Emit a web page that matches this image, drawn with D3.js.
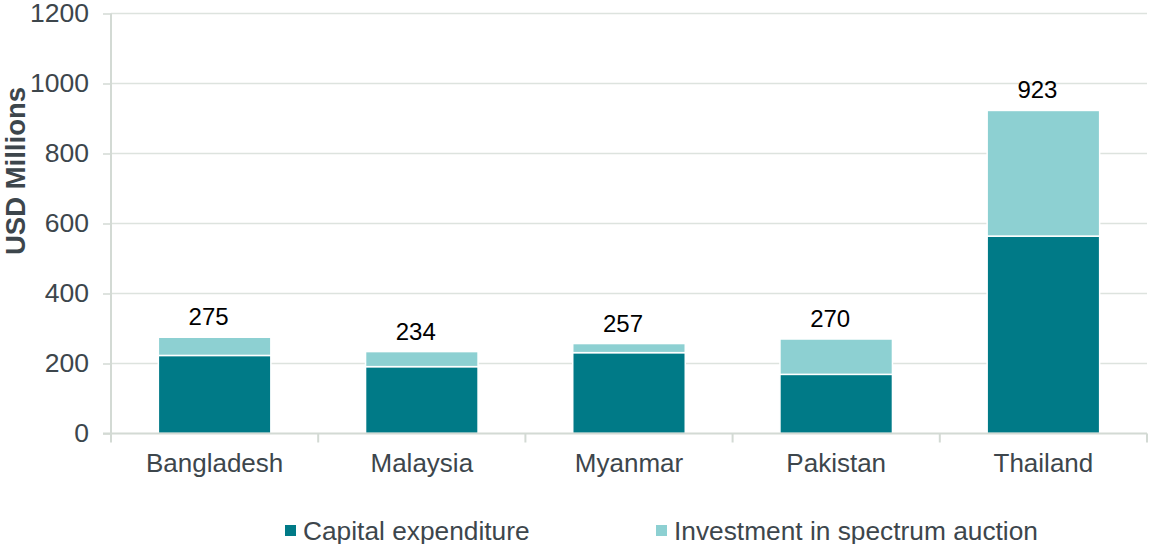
<!DOCTYPE html>
<html>
<head>
<meta charset="utf-8">
<script src="https://cdn.jsdelivr.net/npm/d3@7"></script>
<style>
  html, body { margin: 0; padding: 0; background: #fff; }
  svg { display: block; font-family: "Liberation Sans", Arial, sans-serif; }
</style>
</head>
<body>
<svg id="chart" width="1149" height="544"></svg>
<script>
const categories = ["Bangladesh", "Malaysia", "Myanmar", "Pakistan", "Thailand"];
const capex = [223, 191, 231, 169, 564];
const spectrum = [52, 43, 26, 101, 359];
const totals = [275, 234, 257, 270, 923];
const yTicks = [0, 200, 400, 600, 800, 1000, 1200];
const seriesNames = ["Capital expenditure", "Investment in spectrum auction"];
const colors = ["#007a87", "#8dd0d2"];

const svg = d3.select("#chart");
const plotLeft = 111, plotRight = 1147, plotTop = 13.5, plotBottom = 433.5;

const x = d3.scaleBand().domain(categories).range([plotLeft, plotRight]).paddingInner(0.457).paddingOuter(0.2285);
const y = d3.scaleLinear().domain([0, 1200]).range([plotBottom, plotTop]);

const gridColor = "#dde3de";
const axisColor = "#d3dad4";
const textColor = "#3d464c";

// gridlines
svg.append("g").selectAll("line").data(yTicks.filter(d => d > 0)).join("line")
  .attr("x1", plotLeft).attr("x2", plotRight)
  .attr("y1", d => y(d)).attr("y2", d => y(d))
  .attr("stroke", gridColor).attr("stroke-width", 1.5);

// y axis
const yAxis = svg.append("g").attr("transform", `translate(${plotLeft},0)`)
  .call(d3.axisLeft(y).tickValues(yTicks).tickSize(8).tickPadding(14).tickFormat(d3.format("d")));
yAxis.select(".domain").attr("stroke", axisColor).attr("stroke-width", 2).attr("d", `M0,${plotTop}V${plotBottom}`);
yAxis.selectAll(".tick line").attr("stroke", axisColor).attr("stroke-width", 1.5);
yAxis.selectAll(".tick text").attr("fill", textColor).attr("font-size", 26.5).attr("font-family", "Liberation Sans, Arial, sans-serif");

// stacked data
const data = categories.map((c, i) => ({ cat: c, capex: capex[i], spectrum: spectrum[i] }));
const stack = d3.stack().keys(["capex", "spectrum"])(data);

svg.append("g").selectAll("g").data(stack).join("g")
  .attr("fill", (d, i) => colors[i])
  .selectAll("rect").data(d => d).join("rect")
  .attr("x", d => x(d.data.cat))
  .attr("width", x.bandwidth())
  .attr("y", d => y(d[1]))
  .attr("height", d => y(d[0]) - y(d[1]))
  .attr("stroke", "#ffffff").attr("stroke-width", 1.5);

// x axis
const xAxisG = svg.append("g").attr("transform", `translate(0,${plotBottom})`);
xAxisG.append("line").attr("x1", plotLeft - 8).attr("x2", plotRight).attr("y1", 0).attr("y2", 0)
  .attr("stroke", axisColor).attr("stroke-width", 2);
const bounds = d3.range(categories.length + 1).map(i => plotLeft + i * x.step());
xAxisG.selectAll(".xt").data(bounds).join("line").attr("class", "xt")
  .attr("x1", d => d).attr("x2", d => d).attr("y1", 0).attr("y2", 9)
  .attr("stroke", axisColor).attr("stroke-width", 2);
xAxisG.selectAll(".xl").data(categories).join("text").attr("class", "xl")
  .attr("x", d => x(d) + x.bandwidth() / 2)
  .attr("y", 38.5)
  .attr("text-anchor", "middle")
  .attr("fill", textColor).attr("font-size", 26)
  .text(d => d);

// value labels
svg.append("g").selectAll("text").data(categories).join("text")
  .attr("x", d => x(d) + x.bandwidth() / 2 - 6)
  .attr("y", (d, i) => y(totals[i]) - 12)
  .attr("text-anchor", "middle")
  .attr("fill", "#000").attr("font-size", 24)
  .text((d, i) => totals[i]);

// y title
svg.append("text")
  .attr("transform", "translate(25,171) rotate(-90)")
  .attr("text-anchor", "middle")
  .attr("font-weight", "bold")
  .attr("font-size", 27.5)
  .attr("fill", textColor)
  .text("USD Millions");

// legend
const legendX = [285, 656];
const lg = svg.append("g").selectAll("g").data(seriesNames).join("g")
  .attr("transform", (d, i) => `translate(${legendX[i]},0)`);
lg.append("rect").attr("x", 0).attr("y", 525).attr("width", 11).attr("height", 11)
  .attr("fill", (d, i) => colors[i]);
lg.append("text").attr("x", 18).attr("y", 539.5)
  .attr("fill", textColor).attr("font-size", 26.3)
  .text(d => d);
</script>
</body>
</html>
